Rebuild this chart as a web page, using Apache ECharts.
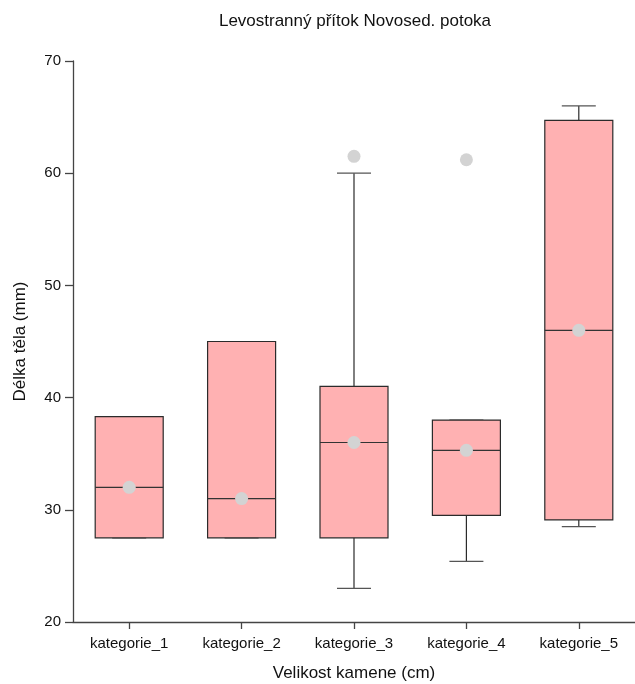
<!DOCTYPE html>
<html>
<head>
<meta charset="utf-8">
<script src="https://cdn.jsdelivr.net/npm/echarts@6/dist/echarts.min.js"></script>
<style>html,body{margin:0;padding:0;background:#fff}#c{width:635px;height:684px}</style>
</head>
<body>
<div id="c"></div>
<script>
const categories = ['kategorie_1', 'kategorie_2', 'kategorie_3', 'kategorie_4', 'kategorie_5'];
const boxMin = [27.5, 27.5, 23.0, 25.4, 28.5];
const boxQ1 = [27.5, 27.5, 27.5, 29.5, 29.1];
const boxMedian = [32.0, 31.0, 36.0, 35.3, 46.0];
const boxQ3 = [38.3, 45.0, 41.0, 38.0, 64.7];
const boxMax = [38.3, 45.0, 60.0, 38.0, 66.0];
const means = [32.0, 31.0, 36.0, 35.3, 46.0];
const outlierCategory = ['kategorie_3', 'kategorie_4'];
const outlierValues = [61.5, 61.2];

const FONT = "'Liberation Sans', Arial, sans-serif";
const BOX_RATIO = 0.605;

const chart = echarts.init(document.getElementById('c'), null, {renderer: 'canvas'});

function renderBox(params, api) {
  const idx = api.value(0);
  const vMin = api.value(1), vQ1 = api.value(2), vMed = api.value(3), vQ3 = api.value(4), vMax = api.value(5);
  const cx = api.coord([idx, vMed])[0];
  const bw = api.size([1, 0])[0] * BOX_RATIO;
  const yMin = api.coord([idx, vMin])[1];
  const yQ1 = api.coord([idx, vQ1])[1];
  const yMed = api.coord([idx, vMed])[1];
  const yQ3 = api.coord([idx, vQ3])[1];
  const yMax = api.coord([idx, vMax])[1];
  const line = (x1, y1, x2, y2, color) => ({
    type: 'line', shape: {x1, y1, x2, y2},
    style: {stroke: color || '#2b2b2b', lineWidth: 1.2}
  });
  return {
    type: 'group',
    children: [
      line(cx, yMax, cx, yQ3),
      line(cx, yQ1, cx, yMin),
      line(cx - bw / 4, yMax, cx + bw / 4, yMax, '#555'),
      line(cx - bw / 4, yMin, cx + bw / 4, yMin, '#555'),
      {type: 'rect', shape: {x: cx - bw / 2, y: yQ3, width: bw, height: yQ1 - yQ3},
       style: {fill: '#FFB1B2', stroke: '#2b2b2b', lineWidth: 1.2}},
      line(cx - bw / 2, yMed, cx + bw / 2, yMed, '#333')
    ]
  };
}

chart.setOption({
  animation: false,
  backgroundColor: '#fff',
  textStyle: {fontFamily: FONT},
  title: {
    text: 'Levostranný přítok Novosed. potoka', left: 350, top: 8, textAlign: 'center',
    textStyle: {fontSize: 17, fontWeight: 'normal', color: '#111', fontFamily: FONT}
  },
  grid: {left: 73, right: 0, top: 61, bottom: 62, containLabel: false, outerBoundsMode: 'none'},
  xAxis: {
    type: 'category', data: categories, boundaryGap: true,
    name: 'Velikost kamene (cm)', nameLocation: 'middle', nameGap: 43,
    nameTextStyle: {fontSize: 17, color: '#111', fontFamily: FONT},
    axisLine: {show: true, lineStyle: {color: '#444', width: 1.3}},
    splitLine: {show: false},
    axisTick: {show: true, alignWithLabel: true, length: 7, lineStyle: {color: '#444', width: 1.3}},
    axisLabel: {margin: 14, fontSize: 15, color: '#111', fontFamily: FONT}
  },
  yAxis: {
    type: 'value', min: 20, max: 70, interval: 10,
    name: 'Délka těla (mm)', nameLocation: 'middle', nameGap: 44,
    nameTextStyle: {fontSize: 17, color: '#111', fontFamily: FONT},
    axisLine: {show: true, lineStyle: {color: '#444', width: 1.3}},
    splitLine: {show: false},
    axisTick: {show: true, length: 8, lineStyle: {color: '#444', width: 1.3}},
    axisLabel: {margin: 12, fontSize: 15, color: '#111', fontFamily: FONT}
  },
  series: [
    {
      type: 'custom',
      renderItem: renderBox,
      encode: {x: 0, y: [1, 2, 3, 4, 5]},
      data: categories.map((c, i) => [i, boxMin[i], boxQ1[i], boxMedian[i], boxQ3[i], boxMax[i]]),
      z: 2
    },
    {
      type: 'scatter',
      symbol: 'circle', symbolSize: 13,
      itemStyle: {color: '#D3D3D3', opacity: 1},
      data: means.map((m, i) => [categories[i], m]),
      z: 5
    },
    {
      type: 'scatter',
      symbol: 'circle', symbolSize: 13,
      itemStyle: {color: '#D3D3D3', opacity: 1},
      data: outlierValues.map((v, i) => [outlierCategory[i], v]),
      z: 5
    }
  ]
});
</script>
</body>
</html>
